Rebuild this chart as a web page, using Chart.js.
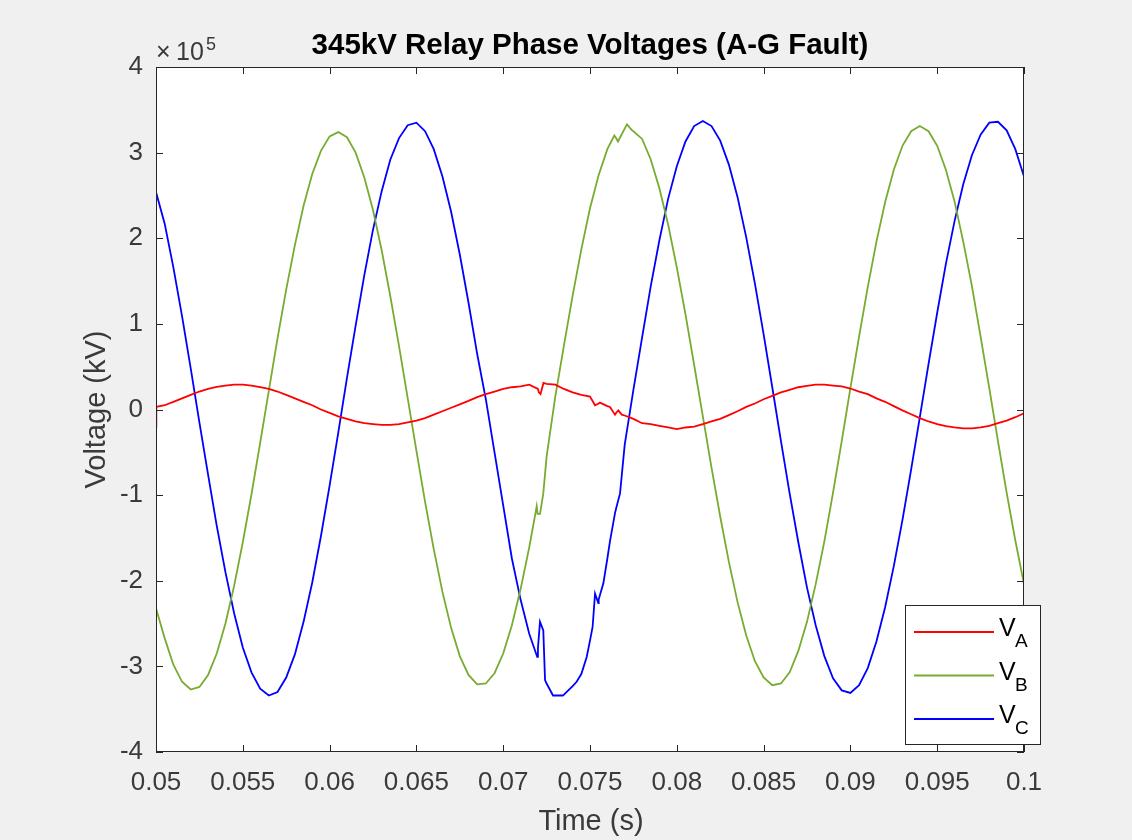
<!DOCTYPE html>
<html>
<head>
<meta charset="utf-8">
<title>345kV Relay Phase Voltages (A-G Fault)</title>
<script src="https://cdn.jsdelivr.net/npm/chart.js@4.4.1/dist/chart.umd.min.js"></script>
<style>
  html, body { margin: 0; padding: 0; background: #f0f0f0; }
  #wrap { width: 1132px; height: 840px; }
</style>
</head>
<body>
<div id="wrap"><canvas id="relayChart" width="1132" height="840"></canvas></div>
<script>
// sample times (s)
const time = [
  0.0500, 0.0505, 0.0510, 0.0515, 0.0520, 0.0525, 0.0530, 0.0535, 0.0540, 0.0545,
  0.0550, 0.0555, 0.0560, 0.0565, 0.0570, 0.0575, 0.0580, 0.0585, 0.0590, 0.0595,
  0.0600, 0.0605, 0.0610, 0.0615, 0.0620, 0.0625, 0.0630, 0.0635, 0.0640, 0.0645,
  0.0650, 0.0655, 0.0660, 0.0665, 0.0670, 0.0675, 0.0680, 0.0685, 0.0690, 0.0695,
  0.0700, 0.0705, 0.0710, 0.0715, 0.0720, 0.0725, 0.0730, 0.0735, 0.0740, 0.0745,
  0.0750, 0.0755, 0.0760, 0.0765, 0.0770, 0.0775, 0.0780, 0.0785, 0.0790, 0.0795,
  0.0800, 0.0805, 0.0810, 0.0815, 0.0820, 0.0825, 0.0830, 0.0835, 0.0840, 0.0845,
  0.0850, 0.0855, 0.0860, 0.0865, 0.0870, 0.0875, 0.0880, 0.0885, 0.0890, 0.0895,
  0.0900, 0.0905, 0.0910, 0.0915, 0.0920, 0.0925, 0.0930, 0.0935, 0.0940, 0.0945,
  0.0950, 0.0955, 0.0960, 0.0965, 0.0970, 0.0975, 0.0980, 0.0985, 0.0990, 0.0995,
  0.1000
];

// phase voltages, in units of 1e5
const voltA = [
  -0.20, 0.05, 0.09, 0.13, 0.17, 0.21, 0.24, 0.265, 0.28, 0.29,
  0.29, 0.28, 0.26, 0.24, 0.21, 0.17, 0.13, 0.09, 0.05, 0.00,
  -0.04, -0.08, -0.11, -0.14, -0.16, -0.17, -0.18, -0.18, -0.17, -0.15,
  -0.13, -0.10, -0.06, -0.02, 0.02, 0.06, 0.10, 0.145, 0.18, 0.21,
  0.24, 0.26, 0.27, 0.29, 0.24, 0.30, 0.29, 0.24, 0.20, 0.17,
  0.15, 0.07, 0.04, -0.04, -0.07, -0.11, -0.16, -0.17, -0.19, -0.21,
  -0.23, -0.21, -0.20, -0.17, -0.14, -0.11, -0.065, -0.02, 0.03, 0.07,
  0.12, 0.16, 0.20, 0.23, 0.26, 0.275, 0.29, 0.29, 0.28, 0.27,
  0.245, 0.21, 0.18, 0.13, 0.09, 0.04, -0.01, -0.055, -0.10, -0.14,
  -0.17, -0.195, -0.21, -0.22, -0.22, -0.21, -0.19, -0.16, -0.13, -0.09,
  -0.045
];
const voltB = [
  -2.32, -2.67, -2.98, -3.18, -3.27, -3.24, -3.10, -2.85, -2.50, -2.06,
  -1.55, -0.99, -0.39, 0.22, 0.83, 1.40, 1.92, 2.38, 2.75, 3.02,
  3.19, 3.24, 3.18, 3.00, 2.71, 2.33, 1.86, 1.32, 0.74, 0.13,
  -0.48, -1.08, -1.63, -2.13, -2.55, -2.88, -3.10, -3.21, -3.20, -3.08,
  -2.85, -2.52, -2.10, -1.61, -1.22, -0.55, 0.15, 0.75, 1.33, 1.87,
  2.35, 2.74, 3.04, 3.17, 3.28, 3.25, 3.16, 2.92, 2.58, 2.16,
  1.66, 1.11, 0.52, -0.08, -0.68, -1.25, -1.78, -2.25, -2.64, -2.94,
  -3.13, -3.22, -3.20, -3.07, -2.82, -2.48, -2.04, -1.54, -0.97, -0.37,
  0.25, 0.85, 1.43, 1.96, 2.42, 2.80, 3.08, 3.25, 3.31, 3.25,
  3.08, 2.80, 2.43, 1.96, 1.44, 0.85, 0.25, -0.37, -0.97, -1.53,
  -2.04
];
const voltC = [
  2.54, 2.17, 1.66, 1.09, 0.48, -0.15, -0.76, -1.36, -1.90, -2.38,
  -2.78, -3.07, -3.26, -3.34, -3.30, -3.13, -2.86, -2.48, -2.02, -1.48,
  -0.89, -0.27, 0.37, 0.98, 1.57, 2.10, 2.55, 2.92, 3.17, 3.32,
  3.35, 3.25, 3.04, 2.72, 2.31, 1.81, 1.25, 0.65, 0.12, -0.50,
  -1.12, -1.74, -2.22, -2.62, -2.79, -3.20, -3.34, -3.33, -3.23, -3.09,
  -2.70, -2.22, -1.74, -1.16, -0.41, 0.23, 0.84, 1.44, 1.98, 2.46,
  2.84, 3.13, 3.31, 3.37, 3.31, 3.14, 2.86, 2.48, 2.01, 1.47,
  0.88, 0.26, -0.37, -0.98, -1.55, -2.08, -2.52, -2.88, -3.14, -3.28,
  -3.31, -3.22, -3.02, -2.71, -2.31, -1.83, -1.29, -0.70, -0.09, 0.53,
  1.13, 1.70, 2.20, 2.63, 2.97, 3.21, 3.35, 3.36, 3.26, 3.04,
  2.72
];

// extra samples around the fault transients
const faultTimeA = [0.05002, 0.07205, 0.07215, 0.07232, 0.07529, 0.07557, 0.07615, 0.07644, 0.07663, 0.07683];
const faultVoltA = [0.03, 0.20, 0.18, 0.31, 0.05, 0.08, 0.03, -0.06, -0.01, -0.06];
const faultTimeB = [0.07193, 0.07198, 0.07212, 0.07231, 0.07640, 0.07661, 0.07713, 0.07742];
const faultVoltB = [-1.13, -1.22, -1.22, -0.98, 3.20, 3.13, 3.33, 3.26];
const faultTimeC = [0.07196, 0.07212, 0.07231, 0.07241, 0.07287, 0.07344, 0.07423, 0.07481,
                    0.07515, 0.07529, 0.07548, 0.07557, 0.07577, 0.07615, 0.07644, 0.07673];
const faultVoltC = [-2.89, -2.48, -2.58, -3.16, -3.34, -3.34, -3.18, -2.89,
                    -2.54, -2.15, -2.26, -2.17, -2.03, -1.54, -1.21, -0.98];

const phaseNames = ['A', 'B', 'C'];
const phaseColors = ['#ff0000', '#77ac30', '#0000ff'];

const xTickValues = [0.05, 0.055, 0.06, 0.065, 0.07, 0.075, 0.08, 0.085, 0.09, 0.095, 0.1];
const xTickLabels = ['0.05', '0.055', '0.06', '0.065', '0.07', '0.075', '0.08', '0.085', '0.09', '0.095', '0.1'];
const yTickValues = [-4, -3, -2, -1, 0, 1, 2, 3, 4];
const yTickLabels = ['-4', '-3', '-2', '-1', '0', '1', '2', '3', '4'];

const axisColor = '#262626';
const labelColor = '#3a3a3a';
const fontFamily = "'Liberation Sans', Arial, Helvetica, sans-serif";

const mergePoints = (t, v, extraT, extraV) => {
  const pts = t.map((x, i) => ({x: x, y: v[i]}));
  extraT.forEach((x, i) => pts.push({x: x, y: extraV[i]}));
  return pts.sort((a, b) => a.x - b.x);
}

const matlabAxes = {
  id: 'matlabAxes',
  beforeDatasetsDraw(chart) {
    const {ctx, chartArea: a} = chart;
    ctx.save();
    ctx.fillStyle = '#ffffff';
    ctx.fillRect(a.left, a.top, a.right - a.left, a.bottom - a.top);
    ctx.restore();
  },
  afterDatasetsDraw(chart) {
    const {ctx, chartArea: a, scales} = chart;
    const tick = 7;
    ctx.save();
    ctx.strokeStyle = axisColor;
    ctx.lineWidth = 1;
    ctx.beginPath();
    xTickValues.forEach(v => {
      const px = Math.round(scales.x.getPixelForValue(v)) + 0.5;
      ctx.moveTo(px, a.bottom); ctx.lineTo(px, a.bottom - tick);
      ctx.moveTo(px, a.top); ctx.lineTo(px, a.top + tick);
    });
    yTickValues.forEach(v => {
      const py = Math.round(scales.y.getPixelForValue(v)) + 0.5;
      ctx.moveTo(a.left, py); ctx.lineTo(a.left + tick, py);
      ctx.moveTo(a.right, py); ctx.lineTo(a.right - tick, py);
    });
    ctx.stroke();
    ctx.strokeRect(a.left + 0.5, a.top + 0.5, a.right - a.left - 1, a.bottom - a.top - 1);
    ctx.restore();
  },
  afterDraw(chart) {
    const {ctx, chartArea: a} = chart;
    const cx = (a.left + a.right) / 2;
    ctx.save();
    ctx.fillStyle = '#000000';
    ctx.textAlign = 'center';
    ctx.textBaseline = 'alphabetic';
    ctx.font = `bold 29.5px ${fontFamily}`;
    ctx.fillText('345kV Relay Phase Voltages (A-G Fault)', cx, 54);

    ctx.fillStyle = labelColor;
    ctx.font = `29px ${fontFamily}`;
    ctx.fillText('Time (s)', cx + 1, 830);
    ctx.save();
    ctx.translate(105, (a.top + a.bottom) / 2);
    ctx.rotate(-Math.PI / 2);
    ctx.fillText('Voltage (kV)', 0, 0);
    ctx.restore();

    // exponent label
    ctx.textAlign = 'left';
    ctx.font = `25px ${fontFamily}`;
    ctx.fillText('\u00d7', 156, 60);
    ctx.fillText('10', 176, 60);
    ctx.font = `18px ${fontFamily}`;
    ctx.fillText('5', 206, 50);

    // legend
    const box = {left: 905, top: 605, right: 1041, bottom: 745};
    ctx.fillStyle = '#ffffff';
    ctx.fillRect(box.left, box.top, box.right - box.left, box.bottom - box.top);
    ctx.strokeStyle = axisColor;
    ctx.lineWidth = 1;
    ctx.strokeRect(box.left + 0.5, box.top + 0.5, box.right - box.left - 1, box.bottom - box.top - 1);
    phaseNames.forEach((name, i) => {
      const y = 632 + i * 43.5;
      ctx.strokeStyle = phaseColors[i];
      ctx.lineWidth = 1.8;
      ctx.beginPath();
      ctx.moveTo(914, y); ctx.lineTo(994, y);
      ctx.stroke();
      ctx.fillStyle = '#000000';
      ctx.font = `25px ${fontFamily}`;
      ctx.fillText('V', 999, y + 4);
      ctx.font = `19px ${fontFamily}`;
      ctx.fillText(name, 1015, y + 15);
    });
    ctx.restore();
  }
};

const tickFont = {family: fontFamily, size: 26};

const relayChart = new Chart(document.getElementById('relayChart'), {
  type: 'line',
  data: {
    datasets: [
      {label: 'V_A', data: mergePoints(time, voltA, faultTimeA, faultVoltA), borderColor: phaseColors[0]},
      {label: 'V_B', data: mergePoints(time, voltB, faultTimeB, faultVoltB), borderColor: phaseColors[1]},
      {label: 'V_C', data: mergePoints(time, voltC, faultTimeC, faultVoltC), borderColor: phaseColors[2]}
    ]
  },
  options: {
    responsive: false,
    animation: false,
    devicePixelRatio: 1,
    layout: {padding: {top: 67, right: 108, left: 0, bottom: 0}},
    elements: {
      point: {radius: 0},
      line: {borderWidth: 1.8, tension: 0, fill: false}
    },
    plugins: {
      legend: {display: false},
      title: {display: false},
      tooltip: {enabled: false}
    },
    scales: {
      x: {
        type: 'linear',
        min: 0.05,
        max: 0.1,
        grid: {display: false, drawTicks: false},
        border: {display: false},
        afterBuildTicks: s => { s.ticks = xTickValues.map(v => ({value: v})); },
        afterFit: s => { s.height = 88; },
        ticks: {
          autoSkip: false,
          maxRotation: 0,
          padding: 15,
          color: labelColor,
          font: tickFont,
          callback: (value, index) => xTickLabels[index]
        }
      },
      y: {
        type: 'linear',
        min: -4,
        max: 4,
        grid: {display: false, drawTicks: false},
        border: {display: false},
        afterBuildTicks: s => { s.ticks = yTickValues.map(v => ({value: v})); },
        afterFit: s => { s.width = 156; },
        ticks: {
          autoSkip: false,
          padding: 13,
          color: labelColor,
          font: tickFont,
          callback: (value, index) => yTickLabels[index]
        }
      }
    }
  },
  plugins: [matlabAxes]
});
</script>
</body>
</html>
